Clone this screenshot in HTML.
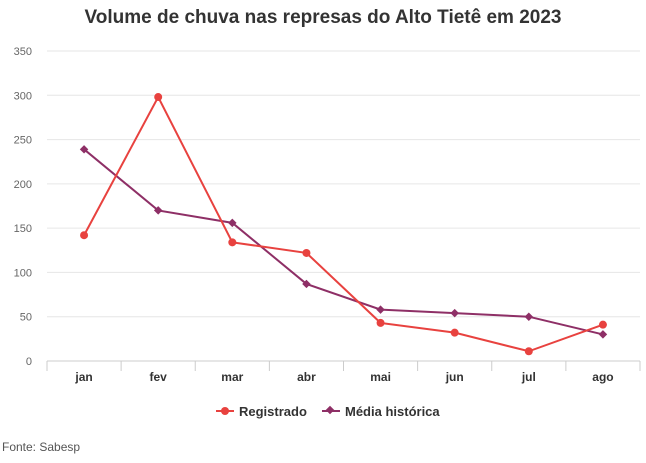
<!DOCTYPE html>
<html><head><meta charset="utf-8"><style>
body{margin:0;background:#fff;font-family:"Liberation Sans",sans-serif;}
svg text{font-family:"Liberation Sans",sans-serif;}
</style></head><body>
<svg id="chart" width="646" height="458">
<text x="323" y="23" text-anchor="middle" font-size="19" font-weight="bold" fill="#333">Volume de chuva nas represas do Alto Tietê em 2023</text>
<g id="grid"></g><g id="xaxis"></g><g id="series"></g>
<g>
<g><line x1="216" y1="411" x2="234" y2="411" stroke="#e8423f" stroke-width="2"/><circle cx="225" cy="411" r="4" fill="#e8423f"/><text x="239" y="416" font-size="13" font-weight="bold" fill="#333">Registrado</text></g>
<g><line x1="322" y1="411" x2="340" y2="411" stroke="#8e2f66" stroke-width="2"/><rect x="327" y="407" width="6" height="6" fill="#8e2f66" transform="rotate(45 330 410)"/><text x="345" y="416" font-size="13" font-weight="bold" fill="#333">Média histórica</text></g>
</g>
<text x="2" y="451" font-size="12" fill="#555">Fonte: Sabesp</text>
</svg>
<script>
const categories=["jan","fev","mar","abr","mai","jun","jul","ago"];
const registrado=[142,298,134,122,43,32,11,41];
const media=[239,170,156,87,58,54,50,30];
const yTicks=[0,50,100,150,200,250,300,350];
const NS="http://www.w3.org/2000/svg";
const x0=47,x1=640,y0=361,y1=51,yMax=350;
const bw=(x1-x0)/categories.length;
function xs(i){return x0+bw*(i+0.5);}
function ys(v){return y0-(v/yMax)*(y0-y1);}
function mk(t,a,p){const e=document.createElementNS(NS,t);for(const k in a)e.setAttribute(k,a[k]);p.appendChild(e);return e;}
const grid=document.getElementById('grid');
yTicks.forEach(v=>{
 const l=mk('line',{x1:x0,x2:x1,y1:ys(v),y2:ys(v),stroke:v===0?'#ccc':'#e6e6e6','stroke-width':1},grid);
 
 
 const t=mk('text',{x:32,y:ys(v)+4,'text-anchor':'end','font-size':11,fill:'#666'},grid);
 t.textContent=v;
 
 
});
const xa=document.getElementById('xaxis');
categories.forEach((c,i)=>{
 const tk=mk('line',{x1:x0+bw*i,x2:x0+bw*i,y1:y0,y2:y0+10,stroke:'#ccc'},xa);
 
 
 const t=mk('text',{x:xs(i),y:y0+20,'text-anchor':'middle','font-size':12,'font-weight':'bold',fill:'#333'},xa);
 t.textContent=c;
 
 
});
const tkEnd=mk('line',{x1:x1,x2:x1,y1:y0,y2:y0+10,stroke:'#ccc'},xa);


const s=document.getElementById('series');
function series(vals,color,name,diamond){
 const p=mk('polyline',{points:vals.map((v,i)=>xs(i)+','+ys(v)).join(' '),fill:'none',stroke:color,'stroke-width':2},s);
 
 
 vals.forEach((v,i)=>{
  let m;
  if(diamond){m=mk('rect',{x:xs(i)-3,y:ys(v)-3,width:6,height:6,fill:color,transform:`rotate(45 ${xs(i)} ${ys(v)})`},s);}
  else{m=mk('circle',{cx:xs(i),cy:ys(v),r:4,fill:color},s);}
  
  
 });
}
series(media,'#8e2f66','media',true);
series(registrado,'#e8423f','registrado',false);
</script>
</body></html>
